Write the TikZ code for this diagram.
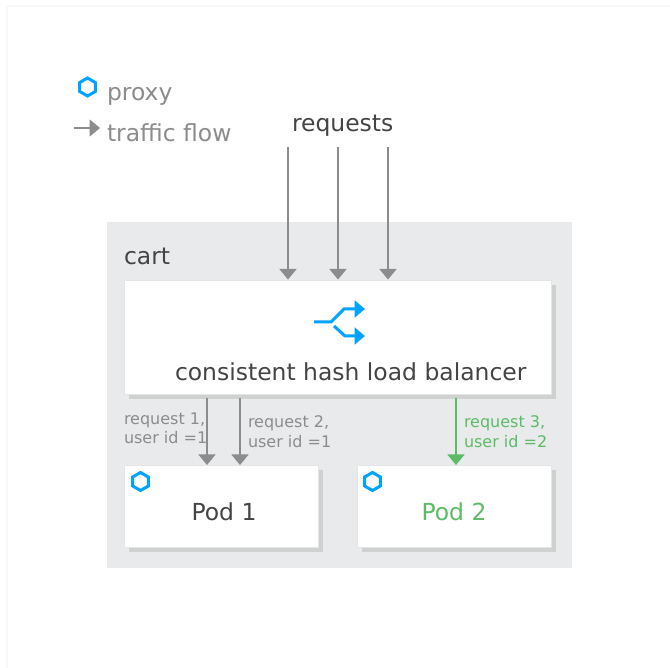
\documentclass[tikz,border=0pt]{standalone}
\usepackage{fontspec}
\setmainfont{DejaVu Sans}
\usetikzlibrary{arrows.meta,shapes.geometric,shadows}
\definecolor{panel}{HTML}{E9EAEC}
\definecolor{shade}{HTML}{CFD0D0}
\definecolor{edgeline}{HTML}{E4E5E5}
\definecolor{flow}{HTML}{8C8C8C}
\definecolor{dark}{HTML}{444444}
\definecolor{lite}{HTML}{8C8C8C}
\definecolor{okgreen}{HTML}{5CBB66}
\definecolor{azure}{HTML}{00A3FF}
\definecolor{frameline}{HTML}{F8F8F8}
\tikzset{
  x=1pt,y=-1pt,
  box/.style={rectangle,fill=white,draw=edgeline,line width=1pt,inner sep=0pt,outer sep=0pt,
    drop shadow={shadow xshift=4.5pt,shadow yshift=-4.5pt,fill=shade,opacity=1}},
  bigtext/.style={font=\fontsize{23.45}{28}\selectfont,anchor=base west,inner sep=0pt,outer sep=0pt,text=dark},
  smalltext/.style={font=\fontsize{16}{19.5}\selectfont,align=left,anchor=north west,inner sep=0pt,outer sep=0pt,text=lite},
  hexicon/.style={regular polygon,regular polygon sides=6,shape border rotate=30,draw=azure,line width=3pt,minimum size=18pt,inner sep=0pt,outer sep=0pt},
  flowline/.style={draw=flow,line width=1.6pt,shorten >=1pt,-{Triangle[width=17pt,length=10.5pt]},color=flow},
  iconline/.style={draw=azure,line width=3pt,-{Triangle[width=17pt,length=10.5pt]},color=azure},
}
\begin{document}
\begin{tikzpicture}
\useasboundingbox (0,0) rectangle (670,668);
\fill[white] (0,0) rectangle (670,668);
% faint page edge
\draw[frameline,line width=2pt] (7,668) -- (7,6) -- (670,6);
% panel
\node[rectangle,fill=panel,minimum width=465pt,minimum height=346pt,inner sep=0pt,outer sep=0pt] (cart) at (339.5,395) {};
% boxes
\node[box,minimum width=427pt,minimum height=114pt] (lb) at (337.75,337.5) {};
\node[box,minimum width=194pt,minimum height=81pt] (pod1) at (221.5,506.5) {};
\node[box,minimum width=194pt,minimum height=81pt] (pod2) at (454.5,506.5) {};
% legend
\node[hexicon] (hexlegend) at (87.5,87) {};
\node[bigtext,text=lite] (proxytxt) at (107,100.5) {proxy};
\node[bigtext,text=lite] (flowtxt) at (107,141.5) {traffic flow};
\coordinate (legs) at (74,128);
\coordinate (lege) at (101,128);
\draw[flowline] (legs) -- (lege);
% titles
\node[bigtext] (reqtxt) at (292,131.5) {requests};
\node[bigtext] (carttxt) at (124,264.5) {cart};
\node[bigtext] (lbtxt) at (175,380.5) {consistent hash load balancer};
\node[bigtext,anchor=base] (pod1txt) at (224,520) {Pod 1};
\node[bigtext,anchor=base,text=okgreen] (pod2txt) at (454,520) {Pod 2};
% request arrows
\coordinate (ra) at (288,147);
\coordinate (rb) at (338,147);
\coordinate (rc) at (388,147);
\draw[flowline] (ra) -- (ra |- lb.north);
\draw[flowline] (rb) -- (rb |- lb.north);
\draw[flowline] (rc) -- (rc |- lb.north);
% pod arrows
\coordinate (pa) at (207,398);
\coordinate (pb) at (240,398);
\coordinate (pc) at (456,398);
\draw[flowline] (pa) -- (pa |- pod1.north);
\draw[flowline] (pb) -- (pb |- pod1.north);
\draw[flowline,draw=okgreen,color=okgreen] (pc) -- (pc |- pod2.north);
% labels
\node[smalltext] (l1) at (124,412.5) {request 1,\\user id =1};
\node[smalltext] (l2) at (248,416) {request 2,\\user id =1};
\node[smalltext,text=okgreen] (l3) at (464,416) {request 3,\\user id =2};
% pod icons
\node[hexicon] (hexa) at (140.5,481.5) {};
\node[hexicon] (hexb) at (372.5,481.5) {};
% balancer icon
\coordinate (ib) at (314,322);
\coordinate (ic) at (331,322);
\coordinate (id) at (344,309);
\coordinate (ie) at (365,309);
\coordinate (if) at (334,326);
\coordinate (ig) at (345,336);
\coordinate (ih) at (365,336);
\draw[iconline] (ib) -- (ic) -- (id) -- (ie);
\draw[iconline] (if) -- (ig) -- (ih);
\end{tikzpicture}
\end{document}
